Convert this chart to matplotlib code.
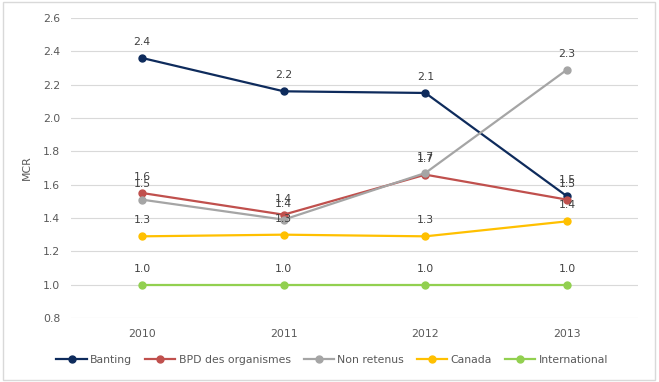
import matplotlib
matplotlib.use("Agg")
import matplotlib.pyplot as plt
from matplotlib.patches import Rectangle

# ─── Data ────────────────────────────────────────────────────────────────────
years = ["2010", "2011", "2012", "2013"]
banting = [2.36, 2.16, 2.15, 1.53]
bpd = [1.55, 1.42, 1.66, 1.51]
non_retenus = [1.51, 1.39, 1.67, 2.29]
canada = [1.29, 1.30, 1.29, 1.38]
international = [1.0, 1.0, 1.0, 1.0]

series = [
    ("Banting", banting, "#0e2b5c"),
    ("BPD des organismes", bpd, "#c0504d"),
    ("Non retenus", non_retenus, "#a5a5a5"),
    ("Canada", canada, "#ffc000"),
    ("International", international, "#92d050"),
]

TEXT = "#595959"
FS = 7.8

fig = plt.figure(figsize=(6.59, 3.82), dpi=100)
ax = fig.add_axes([0.108, 0.1675, 0.86, 0.7855])

x = range(len(years))
for name, vals, color in series:
    ax.plot(x, vals, color=color, linewidth=1.6, marker="o", markersize=5,
            label=name, zorder=3)
    for xi, v in zip(x, vals):
        ax.annotate(f"{v:.1f}", (xi, v), xytext=(0, 8), textcoords="offset points",
                    ha="center", va="bottom", fontsize=FS, color="#404040")

ax.set_xlim(-0.5, len(years) - 0.5)
ax.set_ylim(0.8, 2.6)
ax.set_xticks(list(x))
ax.set_xticklabels(years)
ax.set_yticks([0.8, 1.0, 1.2, 1.4, 1.6, 1.8, 2.0, 2.2, 2.4, 2.6])
ax.yaxis.set_major_formatter(matplotlib.ticker.FormatStrFormatter("%.1f"))
ax.tick_params(length=0, labelsize=FS, labelcolor=TEXT, pad=8)
ax.grid(axis="y", color="#d9d9d9", linewidth=0.8)
ax.set_axisbelow(True)
for s in ax.spines.values():
    s.set_visible(False)
ax.set_ylabel("MCR", fontsize=FS, color=TEXT, labelpad=8)

fig.legend(loc="center", bbox_to_anchor=(0.504, 0.058), ncol=5, frameon=False,
           fontsize=FS, handlelength=2.8, columnspacing=1.2, handletextpad=0.3,
           labelcolor=TEXT)

# light outer border
fig.patches.append(Rectangle((0.004, 0.006), 0.99, 0.988, transform=fig.transFigure,
                             fill=False, edgecolor="#d9d9d9", linewidth=1))

fig.savefig("out.png", dpi=100)
